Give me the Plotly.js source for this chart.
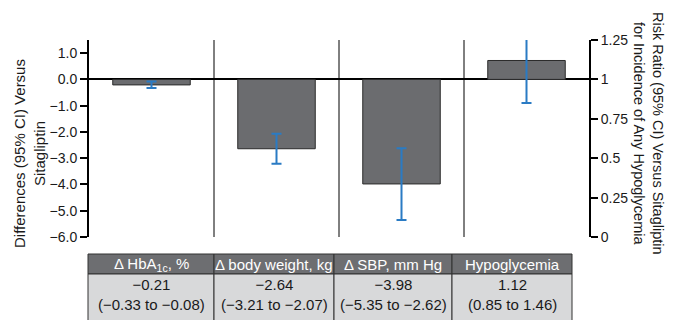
<!DOCTYPE html>
<html>
<head>
<meta charset="utf-8">
<script src="https://cdn.plot.ly/plotly-3.0.1.min.js"></script>
<style>
html,body{margin:0;padding:0;background:#fff;}
#chart{width:676px;height:320px;}
</style>
</head>
<body>
<div id="chart"></div>
<script>
// ---- data ----
const categories = ['\u0394 HbA<sub>1c</sub>, %', '\u0394 body weight, kg', '\u0394 SBP, mm Hg', 'Hypoglycemia'];
const diffValues = [-0.21, -2.64, -3.98];
const diffLow = [-0.33, -3.21, -5.35];
const diffHigh = [-0.08, -2.07, -2.62];
const riskRatio = [1.12];
const riskLow = [0.85];
const riskHigh = [1.46];
const riskReference = 1;
const leftTicks = [-6, -5, -4, -3, -2, -1, 0, 1];
const rightTicks = [0, 0.25, 0.5, 0.75, 1, 1.25];

// ---- layout helpers ----
const W = 676, H = 320, T = 40, PH = H - T;
const px2x = px => px / W;
const px2y = py => (H - py) / PH;
const FONT = 'Liberation Sans, Arial, Helvetica, sans-serif';
const BAR_FILL = '#6b6c6f';
const BAR_LINE = '#2b2b2b';
const ERR = '#2a7bc4';
const INK = '#1a1a1a';

const fmt = v => v.toFixed(2).replace('-', '\u2212');

const diffIdx = diffValues.map((_, i) => i);
const riskIdx = riskRatio.map((_, i) => diffValues.length + i);

const traces = [
  {
    type: 'bar', x: diffIdx, y: diffValues, width: 0.62,
    marker: {color: BAR_FILL, line: {color: BAR_LINE, width: 1}},
    error_y: {type: 'data', symmetric: false,
      array: diffValues.map((v, i) => diffHigh[i] - v),
      arrayminus: diffValues.map((v, i) => v - diffLow[i]),
      color: ERR, thickness: 2, width: 5},
    hoverinfo: 'skip', showlegend: false
  },
  {
    type: 'bar', x: riskIdx, y: riskRatio.map(v => v - riskReference),
    base: riskRatio.map(() => riskReference), width: 0.62, yaxis: 'y2',
    marker: {color: BAR_FILL, line: {color: BAR_LINE, width: 1}},
    error_y: {type: 'data', symmetric: false,
      array: riskRatio.map((v, i) => riskHigh[i] - v),
      arrayminus: riskRatio.map((v, i) => v - riskLow[i]),
      color: ERR, thickness: 2, width: 5},
    hoverinfo: 'skip', showlegend: false
  }
];

// separators between categories
const shapes = [];
for (let i = 1; i < categories.length; i++) {
  shapes.push({type: 'line', xref: 'x', yref: 'y domain', x0: i - 0.5, x1: i - 0.5, y0: 0, y1: 1,
    line: {color: '#000', width: 1}});
}

// table (header + one data row)
const colWidths = [126, 120, 118, 120];
const tableLeft = 88, headTop = 254, headBottom = 274, rowBottom = 332;
const cellText = [];
diffValues.forEach((v, i) => cellText.push(fmt(v) + '<br>(' + fmt(diffLow[i]) + ' to ' + fmt(diffHigh[i]) + ')'));
riskRatio.forEach((v, i) => cellText.push(fmt(v) + '<br>(' + fmt(riskLow[i]) + ' to ' + fmt(riskHigh[i]) + ')'));

const annotations = [];
let edge = tableLeft;
categories.forEach((c, i) => {
  const x0 = edge, x1 = edge + colWidths[i];
  edge = x1;
  shapes.push({type: 'rect', xref: 'paper', yref: 'paper', x0: px2x(x0), x1: px2x(x1),
    y0: px2y(headBottom), y1: px2y(headTop), fillcolor: '#6d6e71', line: {color: '#333', width: 1}, layer: 'below'});
  shapes.push({type: 'rect', xref: 'paper', yref: 'paper', x0: px2x(x0), x1: px2x(x1),
    y0: px2y(rowBottom), y1: px2y(headBottom), fillcolor: '#d8d9da', line: {color: '#333', width: 1}, layer: 'below'});
  annotations.push({xref: 'paper', yref: 'paper', x: px2x((x0 + x1) / 2), y: px2y(264.5),
    xanchor: 'center', yanchor: 'middle', showarrow: false, text: c,
    font: {family: FONT, size: 15, color: '#fff'}});
  annotations.push({xref: 'paper', yref: 'paper', x: px2x((x0 + x1) / 2), y: px2y(294.5),
    xanchor: 'center', yanchor: 'middle', showarrow: false, text: cellText[i],
    font: {family: FONT, size: 15, color: INK}});
});

// axis titles
annotations.push({xref: 'paper', yref: 'paper', x: px2x(29), y: px2y(154), textangle: -90,
  xanchor: 'center', yanchor: 'middle', showarrow: false,
  text: 'Differences (95% CI) Versus<br>Sitagliptin', font: {family: FONT, size: 15, color: INK}});
annotations.push({xref: 'paper', yref: 'paper', x: px2x(649), y: px2y(133), textangle: 90,
  xanchor: 'center', yanchor: 'middle', showarrow: false,
  text: 'Risk Ratio (95% CI) Versus Sitagliptin<br>for Incidence of Any Hypoglycemia',
  font: {family: FONT, size: 14.5, color: INK}});

const layout = {
  width: W, height: H,
  margin: {l: 0, r: 0, t: T, b: 0, pad: 0},
  paper_bgcolor: '#fff', plot_bgcolor: 'rgba(0,0,0,0)',
  barmode: 'overlay',
  font: {family: FONT, size: 14, color: INK},
  xaxis: {domain: [px2x(89), px2x(589)], range: [-0.5, categories.length - 0.5],
    showticklabels: false, showgrid: false, zeroline: false, showline: false, ticks: '', fixedrange: true},
  yaxis: {domain: [px2y(237), 1], range: [-6, 1.5], tickvals: leftTicks, tickformat: '.1f',
    showgrid: false, zeroline: true, zerolinecolor: '#000', zerolinewidth: 2,
    showline: true, linecolor: '#000', linewidth: 2,
    ticks: 'outside', ticklen: 7, tickwidth: 2, tickcolor: '#000',
    tickfont: {family: FONT, size: 14, color: INK}, fixedrange: true},
  yaxis2: {overlaying: 'y', side: 'right', anchor: 'x', range: [0, 1.25], tickvals: rightTicks,
    showgrid: false, zeroline: false, showline: true, linecolor: '#000', linewidth: 2,
    ticks: 'outside', ticklen: 7, tickwidth: 2, tickcolor: '#000',
    tickfont: {family: FONT, size: 14, color: INK}, fixedrange: true},
  shapes: shapes,
  annotations: annotations,
  showlegend: false
};

Plotly.newPlot('chart', traces, layout, {displayModeBar: false, staticPlot: true});
</script>
</body>
</html>
